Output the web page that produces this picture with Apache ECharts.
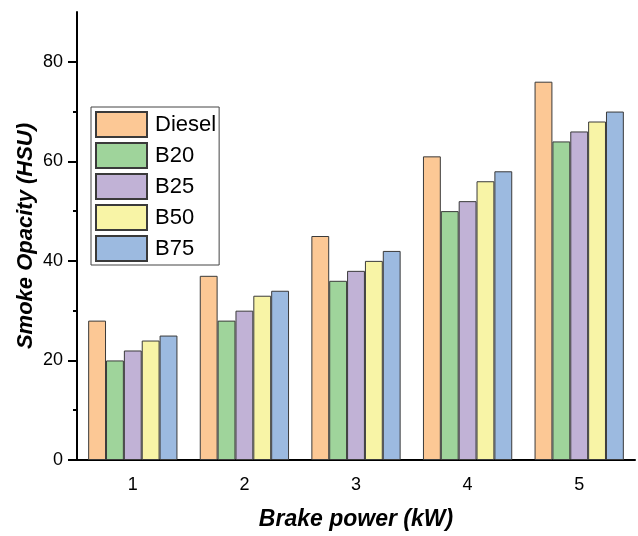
<!DOCTYPE html>
<html>
<head>
<meta charset="utf-8">
<script src="https://cdn.jsdelivr.net/npm/echarts@6/dist/echarts.min.js"></script>
<style>html,body{margin:0;padding:0;background:#fff}#c{width:638px;height:536px}</style>
</head>
<body>
<div id="c"></div>
<script>
const categories = ['1', '2', '3', '4', '5'];
const seriesNames = ['Diesel', 'B20', 'B25', 'B50', 'B75'];
const diesel = [28, 37, 45, 61, 76];
const b20 = [20, 28, 36, 50, 64];
const b25 = [22, 30, 38, 52, 66];
const b50 = [24, 33, 40, 56, 68];
const b75 = [25, 34, 42, 58, 70];
const yMajorTicks = [0, 20, 40, 60, 80];
const yMinorTicks = [10, 30, 50, 70];
const colors = ['#FCC895', '#9FD49B', '#C1B2D6', '#F8F4A6', '#9CBAE0'];
const values = [diesel, b20, b25, b50, b75];

const FONT = 'Liberation Sans, Arial, sans-serif';
const chart = echarts.init(document.getElementById('c'), null, {renderer: 'canvas', width: 638, height: 536});
chart.setOption({
  animation: false,
  backgroundColor: '#fff',
  grid: {left: 77, top: 12, width: 558, height: 449, containLabel: false},
  legend: {
    orient: 'vertical', left: 91, top: 107,
    padding: [4, 3, 3, 4],
    itemWidth: 51, itemHeight: 25, itemGap: 4,
    icon: 'rect',
    borderColor: '#444', borderWidth: 1,
    textStyle: {fontFamily: FONT, fontSize: 22, color: '#000', padding: [0, 0, 0, 3]},
    data: seriesNames
  },
  xAxis: [{
    type: 'category', data: categories, position: 'bottom',
    axisLine: {lineStyle: {color: '#000', width: 2}},
    axisTick: {alignWithLabel: true, length: 8, lineStyle: {color: '#000', width: 2}},
    axisLabel: {fontFamily: FONT, fontSize: 18, color: '#000', margin: 16},
    name: 'Brake power (kW)', nameLocation: 'middle', nameGap: 48,
    nameTextStyle: {fontFamily: FONT, fontSize: 23, fontWeight: 'bold', fontStyle: 'italic', color: '#000'}
  }, {
    type: 'category', data: categories, position: 'bottom',
    axisLine: {show: false},
    axisTick: {alignWithLabel: false, length: 4, lineStyle: {color: '#000', width: 2}},
    axisLabel: {show: false}
  }],
  yAxis: [{
    type: 'value', min: 0, max: 90,
    axisLine: {show: true, lineStyle: {color: '#000', width: 2}},
    axisTick: {show: true, length: 9, customValues: yMajorTicks, lineStyle: {color: '#000', width: 2}},
    axisLabel: {fontFamily: FONT, fontSize: 18, color: '#000', margin: 14, customValues: yMajorTicks},
    splitLine: {show: false},
    name: 'Smoke Opacity (HSU)', nameLocation: 'middle', nameGap: 40, nameMoveOverlap: false,
    nameTextStyle: {fontFamily: FONT, fontSize: 22, fontWeight: 'bold', fontStyle: 'italic', color: '#000'}
  }, {
    type: 'value', min: 0, max: 90, position: 'left',
    axisLine: {show: false},
    axisTick: {show: true, length: 4, customValues: yMinorTicks, lineStyle: {color: '#000', width: 2}},
    axisLabel: {show: false},
    splitLine: {show: false}
  }],
  series: seriesNames.map((n, i) => ({
    name: n, type: 'bar', xAxisIndex: 0, yAxisIndex: 0,
    data: values[i],
    barGap: '0%', barCategoryGap: '20%',
    itemStyle: {color: colors[i], borderColor: '#3a3a3a', borderWidth: 1}
  }))
});
</script>
</body>
</html>
